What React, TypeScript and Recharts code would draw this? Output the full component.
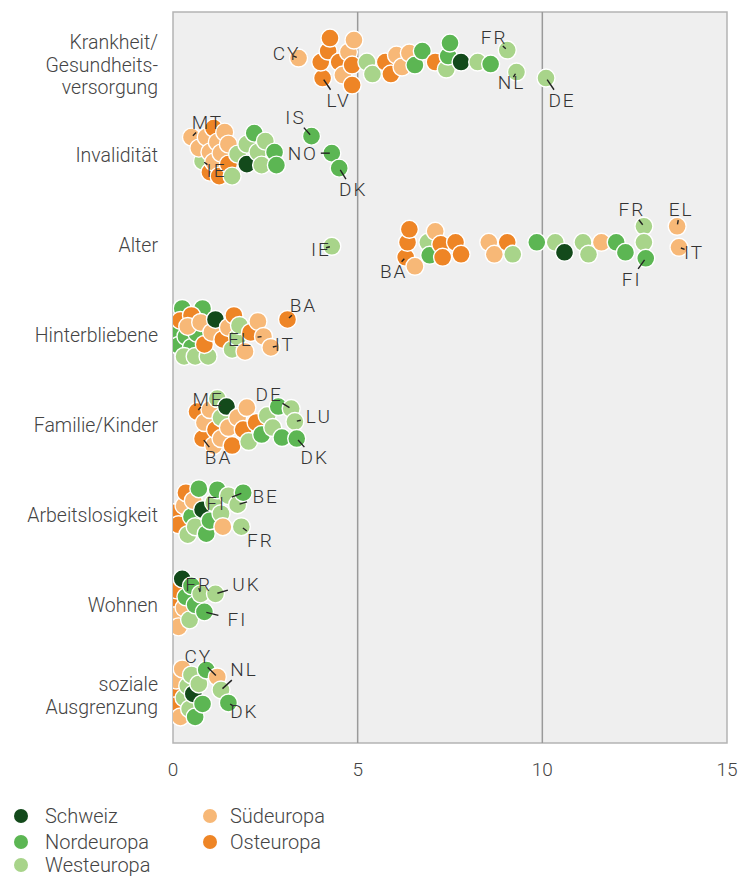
import React from "react";
import {
  ScatterChart,
  Scatter,
  XAxis,
  YAxis,
  ReferenceArea,
  ReferenceLine,
} from "recharts";

// Kategorien (Zeilen von oben nach unten)
const categories = [
  "Krankheit/\nGesundheits-\nversorgung",
  "Invalidität",
  "Alter",
  "Hinterbliebene",
  "Familie/Kinder",
  "Arbeitslosigkeit",
  "Wohnen",
  "soziale\nAusgrenzung",
];

const xTicks = [0, 5, 10, 15];

// Regionen: CH = Schweiz, N = Nord, W = West, S = Süd, O = Ost
type Pt = [string, number, string?];

const krankheit: Pt[] = [
  ["S", 3.4, "CY"], ["O", 4.05, "LV"], ["O", 4.0], ["O", 4.2], ["O", 4.25], ["O", 4.5],
  ["S", 4.6], ["S", 4.75], ["O", 4.85], ["O", 4.85], ["S", 4.9], ["W", 5.25], ["W", 5.4],
  ["O", 5.75], ["O", 5.9], ["S", 6.05], ["S", 6.2], ["S", 6.4], ["N", 6.55], ["N", 6.75],
  ["O", 7.1], ["W", 7.4], ["N", 7.45], ["N", 7.5], ["CH", 7.8], ["W", 8.25], ["N", 8.6],
  ["W", 9.05, "FR"], ["W", 9.3, "NL"], ["W", 10.1, "DE"],
];

const invaliditaet: Pt[] = [
  ["S", 0.5, "MT"], ["W", 0.8, "IE"], ["S", 0.7], ["S", 0.9], ["O", 1.0], ["S", 1.0],
  ["O", 1.1], ["S", 1.1], ["S", 1.2], ["O", 1.25], ["S", 1.3], ["S", 1.4], ["O", 1.5],
  ["S", 1.5], ["W", 1.6], ["W", 1.75], ["W", 2.0], ["CH", 2.0], ["N", 2.2], ["W", 2.3],
  ["W", 2.4], ["W", 2.5], ["N", 2.75], ["N", 2.8], ["N", 3.75, "IS"], ["N", 4.3, "NO"],
  ["N", 4.5, "DK"],
];

const alter: Pt[] = [
  ["W", 4.3, "IE"], ["O", 6.3, "BA"], ["O", 6.35], ["O", 6.4], ["S", 6.55], ["W", 6.9],
  ["N", 6.95], ["S", 7.1], ["O", 7.25], ["O", 7.3], ["O", 7.65], ["O", 7.8], ["S", 8.55],
  ["S", 8.7], ["O", 9.05], ["W", 9.2], ["N", 9.85], ["W", 10.35], ["CH", 10.6], ["W", 11.1],
  ["W", 11.25], ["S", 11.6], ["N", 12.0], ["N", 12.25], ["W", 12.75, "FR"], ["W", 12.75],
  ["N", 12.8, "FI"], ["S", 13.65, "EL"], ["S", 13.7, "IT"],
];

const hinterbliebene: Pt[] = [
  ["N", 0.05], ["N", 0.15], ["N", 0.25], ["N", 0.35], ["N", 0.5], ["N", 0.65], ["N", 0.8],
  ["W", 0.3], ["W", 0.6], ["W", 0.95], ["O", 0.2], ["O", 0.5], ["O", 0.85], ["S", 0.4],
  ["S", 0.75], ["S", 1.05], ["CH", 1.15], ["O", 1.35], ["S", 1.5], ["W", 1.6], ["O", 1.65],
  ["W", 1.75], ["W", 1.8], ["S", 1.95], ["O", 2.1], ["S", 2.3], ["S", 2.45, "EL"],
  ["S", 2.65, "IT"], ["O", 3.1, "BA"],
];

const familie: Pt[] = [
  ["O", 0.65, "ME"], ["O", 0.8, "BA"], ["S", 0.85], ["S", 1.0], ["S", 1.1], ["O", 1.15],
  ["W", 1.2], ["W", 1.3], ["S", 1.3], ["CH", 1.45], ["S", 1.5], ["O", 1.6], ["S", 1.75],
  ["O", 1.9], ["S", 2.0], ["W", 2.05], ["O", 2.25], ["N", 2.4], ["W", 2.55], ["W", 2.7],
  ["N", 2.85], ["N", 2.95], ["W", 3.2, "DE"], ["W", 3.3, "LU"], ["N", 3.35, "DK"],
];

const arbeitslosigkeit: Pt[] = [
  ["O", 0.0], ["O", 0.15], ["S", 0.3], ["O", 0.35], ["W", 0.4], ["N", 0.5], ["S", 0.55],
  ["W", 0.6], ["N", 0.7], ["CH", 0.8], ["N", 0.9], ["N", 1.0], ["W", 1.1], ["N", 1.2],
  ["W", 1.3], ["S", 1.35], ["W", 1.5], ["W", 1.75, "BE"], ["W", 1.85, "FR"], ["N", 1.9, "FI"],
];

const wohnen: Pt[] = [
  ["O", 0.0], ["S", 0.05], ["O", 0.1], ["S", 0.15], ["CH", 0.25], ["S", 0.3], ["N", 0.35],
  ["W", 0.45], ["N", 0.5], ["N", 0.6], ["W", 0.75, "FR"], ["N", 0.85, "FI"], ["W", 1.15, "UK"],
];

const ausgrenzung: Pt[] = [
  ["O", 0.0], ["O", 0.05], ["S", 0.1], ["S", 0.2], ["S", 0.25], ["W", 0.3], ["W", 0.4],
  ["W", 0.45], ["W", 0.5], ["CH", 0.55], ["N", 0.6], ["W", 0.7], ["N", 0.8], ["N", 0.9],
  ["S", 1.2, "CY"], ["W", 1.3, "NL"], ["N", 1.5, "DK"],
];

const rows = [krankheit, invaliditaet, alter, hinterbliebene, familie, arbeitslosigkeit, wohnen, ausgrenzung];

const regionNames: Record<string, string> = {
  CH: "Schweiz",
  N: "Nordeuropa",
  W: "Westeuropa",
  S: "Südeuropa",
  O: "Osteuropa",
};

const COLORS: Record<string, string> = {
  CH: "#134a1b",
  N: "#5cb653",
  W: "#a8d48a",
  S: "#f7b877",
  O: "#ee8526",
};

// Label-Position: [x relativ zum Punkt, y relativ zur Zeilenmitte] (Textmitte, px)
const LABEL_POS: Record<string, [number, number]> = {
  "0-CY": [-13, -9], "0-LV": [15, 38], "0-FR": [-14, -25], "0-NL": [-6, 20], "0-DE": [15, 38],
  "1-MT": [15, -30], "1-IE": [13, 18], "1-IS": [-17, -35], "1-NO": [-30, 1], "1-DK": [13, 37],
  "2-IE": [-12, 7], "2-BA": [-13, 29], "2-FR": [-13, -33], "2-EL": [3, -33], "2-IT": [14, 10], "2-FI": [-15, 37],
  "3-BA": [15, -27], "3-EL": [-24, 7], "3-IT": [13, 12],
  "4-ME": [10, -23], "4-BA": [15, 35], "4-DE": [-23, -28], "4-LU": [23, -6], "4-DK": [17, 35],
  "5-BE": [27, -16], "5-FI": [-28, -9], "5-FR": [18, 28],
  "6-FR": [-3, -18], "6-UK": [30, -18], "6-FI": [32, 17],
  "7-CY": [-20, -36], "7-NL": [22, -23], "7-DK": [15, 19],
};

const W = 741;
const H = 790;
const PLOT_LEFT = 173;
const PLOT_RIGHT = 14;
const PLOT_TOP = 12;
const X_AXIS_H = 47;
const Y_DOMAIN: [number, number] = [-0.555, 7.555];
const PX_PER_X = (W - PLOT_LEFT - PLOT_RIGHT) / 15;
const PX_PER_ROW = (H - PLOT_TOP - X_AXIS_H) / (Y_DOMAIN[1] - Y_DOMAIN[0]);
const COLLIDE = 13;
const MAX_SPREAD = 24;
const FONT = "Roboto";

const labelKey = (r: number, code: string) => `${r}-${code}`;

// Beeswarm: vertikale Verschiebung in Pixel; beschriftete Punkte zuerst, zur Label-Seite hin
function swarm(row: Pt[], r: number): number[] {
  const prefs = row.map((p) => {
    const pos = p[2] ? LABEL_POS[labelKey(r, p[2])] : null;
    return pos ? Math.max(-16, Math.min(16, pos[1] * 0.5)) : 0;
  });
  const order = row
    .map((_, i) => i)
    .sort((a, b) => {
      const la = row[a][2] ? 0 : 1;
      const lb = row[b][2] ? 0 : 1;
      return la - lb || row[a][1] - row[b][1];
    });
  const cands: number[] = [];
  for (let d = -MAX_SPREAD; d <= MAX_SPREAD; d++) cands.push(d);
  const placed: { x: number; y: number }[] = [];
  const out = new Array(row.length).fill(0);
  for (const i of order) {
    const x = row[i][1] * PX_PER_X;
    const pref = prefs[i];
    const sorted = [...cands].sort((a, b) => Math.abs(a - pref) - Math.abs(b - pref) || b - a);
    let best = NaN;
    let fallback = 0;
    let fallbackDist = -1;
    for (const dy of sorted) {
      const minD = placed.reduce((m, p) => Math.min(m, Math.hypot(p.x - x, p.y - dy)), Infinity);
      if (minD >= COLLIDE) {
        best = dy;
        break;
      }
      if (minD > fallbackDist) {
        fallbackDist = minD;
        fallback = dy;
      }
    }
    if (isNaN(best)) best = fallback;
    placed.push({ x, y: best });
    out[i] = best;
  }
  return out;
}

const points = rows.flatMap((row, r) => {
  const offs = swarm(row, r);
  return row.map((p, i) => ({
    x: p[1],
    y: r + offs[i] / PX_PER_ROW,
    off: offs[i],
    region: p[0],
    code: p[2] || "",
    row: r,
  }));
});

const labelPoints = points.filter((p) => p.code);

const Dot = (props: any) => {
  const { cx, cy, payload } = props;
  if (cx == null || cy == null) return null;
  return <circle cx={cx} cy={cy} r={9} fill={COLORS[payload.region]} stroke="#fff" strokeWidth={1.4} />;
};

const CountryLabel = (props: any) => {
  const { cx, cy, payload } = props;
  if (cx == null || cy == null) return null;
  const [lx, ly] = LABEL_POS[labelKey(payload.row, payload.code)] || [12, -20];
  const dx = lx;
  const dy = ly - payload.off; // Zeilenmitte = cy - off
  const len = Math.hypot(dx, dy) || 1;
  const ux = dx / len;
  const uy = dy / len;
  const hw = payload.code.length * 7.5;
  const gap = Math.max(11, Math.abs(ux) * hw + 4);
  const l = Math.max(len - gap, 6);
  return (
    <g>
      <line x1={cx + ux * 2} y1={cy + uy * 2} x2={cx + ux * l} y2={cy + uy * l} stroke="#222" strokeWidth={1.4} />
      <text
        x={cx + dx + 1}
        y={cy + dy}
        textAnchor="middle"
        dominantBaseline="central"
        fontFamily={FONT}
        fontWeight={300}
        fontSize={19}
        letterSpacing={2}
        fill="#333"
      >
        {payload.code}
      </text>
    </g>
  );
};

const CategoryTick = (props: any) => {
  const { y, payload } = props;
  const lines = categories[payload.value].split("\n");
  const lh = 22.5;
  const start = y + 3 - ((lines.length - 1) * lh) / 2;
  return (
    <text textAnchor="end" fontFamily={FONT} fontWeight={300} fontSize={19.5} fill="#444">
      {lines.map((t, i) => (
        <tspan key={i} x={158} y={start + i * lh} dominantBaseline="central">
          {t}
        </tspan>
      ))}
    </text>
  );
};

const XTick = (props: any) => {
  const { x, payload } = props;
  return (
    <text x={x} y={769} textAnchor="middle" dominantBaseline="central" fontFamily={FONT} fontWeight={300} fontSize={19} fill="#444">
      {payload.value}
    </text>
  );
};

const legendItems = [
  { key: "CH", cx: 21, textX: 45, cy: 816 },
  { key: "N", cx: 21, textX: 45, cy: 842 },
  { key: "W", cx: 21, textX: 45, cy: 865 },
  { key: "S", cx: 210, textX: 230, cy: 816 },
  { key: "O", cx: 210, textX: 230, cy: 842 },
];

export default function App() {
  return (
    <div style={{ position: "absolute", left: 0, top: 0, width: W, height: 877, background: "#fff", overflow: "hidden" }}>
      <ScatterChart width={W} height={H} margin={{ top: PLOT_TOP, right: PLOT_RIGHT, bottom: 0, left: 0 }}>
        <XAxis
          type="number"
          dataKey="x"
          domain={[0, 15]}
          ticks={xTicks}
          allowDataOverflow
          axisLine={false}
          tickLine={false}
          height={X_AXIS_H}
          tick={<XTick />}
          interval={0}
        />
        <YAxis
          type="number"
          dataKey="y"
          domain={Y_DOMAIN}
          reversed
          allowDataOverflow
          ticks={categories.map((_, i) => i)}
          interval={0}
          width={PLOT_LEFT}
          axisLine={false}
          tickLine={false}
          tick={<CategoryTick />}
        />
        <ReferenceArea x1={0} x2={15} y1={Y_DOMAIN[0]} y2={Y_DOMAIN[1]} fill="#efefef" fillOpacity={1} stroke="#b4b4b4" strokeWidth={1.5} />
        <ReferenceLine x={5} stroke="#9a9a9a" strokeWidth={1.5} />
        <ReferenceLine x={10} stroke="#9a9a9a" strokeWidth={1.5} />
        <Scatter data={points} shape={<Dot />} isAnimationActive={false} />
        <Scatter data={labelPoints} shape={<CountryLabel />} isAnimationActive={false} />
      </ScatterChart>
      {legendItems.map((it) => (
        <React.Fragment key={it.key}>
          <span
            style={{
              position: "absolute",
              left: it.cx - 7,
              top: it.cy - 7,
              width: 14,
              height: 14,
              borderRadius: 7,
              background: COLORS[it.key],
            }}
          />
          <span
            style={{
              position: "absolute",
              left: it.textX,
              top: it.cy - 10,
              lineHeight: "20px",
              fontFamily: FONT,
              fontWeight: 300,
              fontSize: 20,
              color: "#444",
              whiteSpace: "nowrap",
            }}
          >
            {regionNames[it.key]}
          </span>
        </React.Fragment>
      ))}
    </div>
  );
}
